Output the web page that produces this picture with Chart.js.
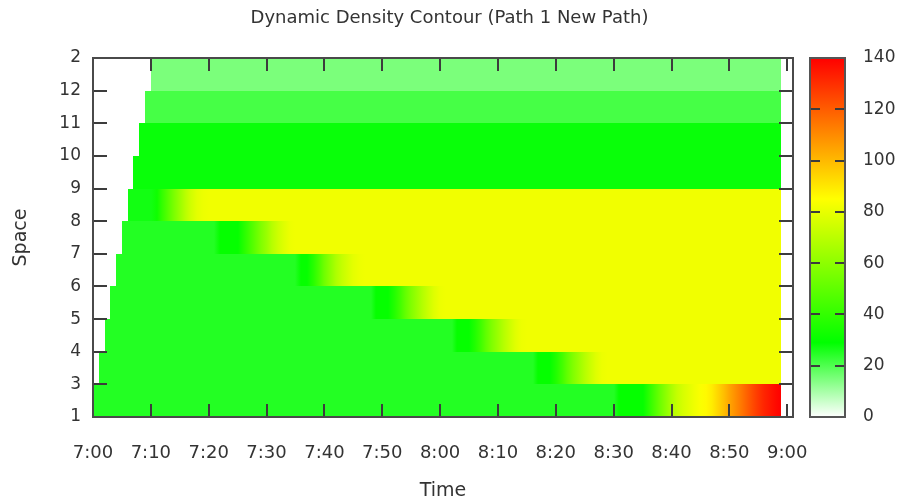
<!DOCTYPE html>
<html>
<head>
<meta charset="utf-8">
<title>Dynamic Density Contour</title>
<script src="https://cdn.jsdelivr.net/npm/chart.js@4.4.1/dist/chart.umd.min.js"></script>
<style>
  html, body { margin: 0; padding: 0; background: #fff; }
  canvas { display: block; }
</style>
</head>
<body>
<canvas id="densityChart" width="899" height="498"></canvas>
<script>
// Dynamic density contour: one sample per minute from 7:00, one row per space section

// Time axis (minutes after 7:00)
const timeTicks = [0, 10, 20, 30, 40, 50, 60, 70, 80, 90, 100, 110, 120];
const timeLabels = ['7:00', '7:10', '7:20', '7:30', '7:40', '7:50', '8:00', '8:10', '8:20', '8:30', '8:40', '8:50', '9:00'];

// Space axis (row boundaries)
const spaceTicks = [0, 1, 2, 3, 4, 5, 6, 7, 8, 9, 10, 11];
const spaceLabels = ['1', '3', '4', '5', '6', '7', '8', '9', '10', '11', '12', '2'];

// Colour bar
const colorTicks = [0, 20, 40, 60, 80, 100, 120, 140];
const paletteStops = [0, 29, 85, 140];
const paletteColors = [[255, 255, 255], [0, 255, 0], [255, 255, 0], [255, 0, 0]];

// Density per minute (index = minutes after 7:00), null = no vehicles yet
const row1 = [
  25,25,25,25,25,25,25,25,25,25, 25,25,25,25,25,25,25,25,25,25, 25,25,25,25,25,25,25,25,25,25,
  25,25,25,25,25,25,25,25,25,25, 25,25,25,25,25,25,25,25,25,25, 25,25,25,25,25,25,25,25,25,25,
  25,25,25,25,25,25,25,25,25,25, 25,25,25,25,25,25,25,25,25,25, 25,25,25,25,25,25,25,25,25,25,
  25,30,30,30,30,30,37,45,53,60, 67,72,76,79,82,84,86,89,94,99, 104,109,114,119,124,128,132,135,138,140
];
const row3 = [
  null,25,25,25,25,25,25,25,25,25, 25,25,25,25,25,25,25,25,25,25, 25,25,25,25,25,25,25,25,25,25,
  25,25,25,25,25,25,25,25,25,25, 25,25,25,25,25,25,25,25,25,25, 25,25,25,25,25,25,25,25,25,25,
  25,25,25,25,25,25,25,25,25,25, 25,25,25,25,25,25,25,30,30,30, 36,43,50,57,63,69,74,78,81,82,
  82,82,82,82,82,82,82,82,82,82, 82,82,82,82,82,82,82,82,82,82, 82,82,82,82,82,82,82,82,82,82
];
const row4 = [
  null,null,25,25,25,25,25,25,25,25, 25,25,25,25,25,25,25,25,25,25, 25,25,25,25,25,25,25,25,25,25,
  25,25,25,25,25,25,25,25,25,25, 25,25,25,25,25,25,25,25,25,25, 25,25,25,25,25,25,25,25,25,25,
  25,25,25,30,30,30,36,43,50,57, 63,69,74,78,81,82,82,82,82,82, 82,82,82,82,82,82,82,82,82,82,
  82,82,82,82,82,82,82,82,82,82, 82,82,82,82,82,82,82,82,82,82, 82,82,82,82,82,82,82,82,82,82
];
const row5 = [
  null,null,null,25,25,25,25,25,25,25, 25,25,25,25,25,25,25,25,25,25, 25,25,25,25,25,25,25,25,25,25,
  25,25,25,25,25,25,25,25,25,25, 25,25,25,25,25,25,25,25,25,30, 30,30,36,43,50,57,63,69,74,78,
  81,82,82,82,82,82,82,82,82,82, 82,82,82,82,82,82,82,82,82,82, 82,82,82,82,82,82,82,82,82,82,
  82,82,82,82,82,82,82,82,82,82, 82,82,82,82,82,82,82,82,82,82, 82,82,82,82,82,82,82,82,82,82
];
const row6 = [
  null,null,null,null,25,25,25,25,25,25, 25,25,25,25,25,25,25,25,25,25, 25,25,25,25,25,25,25,25,25,25,
  25,25,25,25,25,25,30,30,37,45, 53,60,67,72,76,79,81,82,82,82, 82,82,82,82,82,82,82,82,82,82,
  82,82,82,82,82,82,82,82,82,82, 82,82,82,82,82,82,82,82,82,82, 82,82,82,82,82,82,82,82,82,82,
  82,82,82,82,82,82,82,82,82,82, 82,82,82,82,82,82,82,82,82,82, 82,82,82,82,82,82,82,82,82,82
];
const row7 = [
  null,null,null,null,null,25,25,25,25,25, 25,25,25,25,25,25,25,25,25,25, 25,25,30,30,30,30,36,43,50,57,
  63,69,74,78,81,82,82,82,82,82, 82,82,82,82,82,82,82,82,82,82, 82,82,82,82,82,82,82,82,82,82,
  82,82,82,82,82,82,82,82,82,82, 82,82,82,82,82,82,82,82,82,82, 82,82,82,82,82,82,82,82,82,82,
  82,82,82,82,82,82,82,82,82,82, 82,82,82,82,82,82,82,82,82,82, 82,82,82,82,82,82,82,82,82,82
];
const row8 = [
  null,null,null,null,null,null,27,27,27,27, 27,32,40,48,56,63,70,75,79,81, 82,82,82,82,82,82,82,82,82,82,
  82,82,82,82,82,82,82,82,82,82, 82,82,82,82,82,82,82,82,82,82, 82,82,82,82,82,82,82,82,82,82,
  82,82,82,82,82,82,82,82,82,82, 82,82,82,82,82,82,82,82,82,82, 82,82,82,82,82,82,82,82,82,82,
  82,82,82,82,82,82,82,82,82,82, 82,82,82,82,82,82,82,82,82,82, 82,82,82,82,82,82,82,82,82,82
];
const row9 = [
  null,null,null,null,null,null,null,28,28,28, 28,28,28,28,28,28,28,28,28,28, 28,28,28,28,28,28,28,28,28,28,
  28,28,28,28,28,28,28,28,28,28, 28,28,28,28,28,28,28,28,28,28, 28,28,28,28,28,28,28,28,28,28,
  28,28,28,28,28,28,28,28,28,28, 28,28,28,28,28,28,28,28,28,28, 28,28,28,28,28,28,28,28,28,28,
  28,28,28,28,28,28,28,28,28,28, 28,28,28,28,28,28,28,28,28,28, 28,28,28,28,28,28,28,28,28,28
];
const row10 = [
  null,null,null,null,null,null,null,null,28,28, 28,28,28,28,28,28,28,28,28,28, 28,28,28,28,28,28,28,28,28,28,
  28,28,28,28,28,28,28,28,28,28, 28,28,28,28,28,28,28,28,28,28, 28,28,28,28,28,28,28,28,28,28,
  28,28,28,28,28,28,28,28,28,28, 28,28,28,28,28,28,28,28,28,28, 28,28,28,28,28,28,28,28,28,28,
  28,28,28,28,28,28,28,28,28,28, 28,28,28,28,28,28,28,28,28,28, 28,28,28,28,28,28,28,28,28,28
];
const row11 = [
  null,null,null,null,null,null,null,null,null,21, 21,21,21,21,21,21,21,21,21,21, 21,21,21,21,21,21,21,21,21,21,
  21,21,21,21,21,21,21,21,21,21, 21,21,21,21,21,21,21,21,21,21, 21,21,21,21,21,21,21,21,21,21,
  21,21,21,21,21,21,21,21,21,21, 21,21,21,21,21,21,21,21,21,21, 21,21,21,21,21,21,21,21,21,21,
  21,21,21,21,21,21,21,21,21,21, 21,21,21,21,21,21,21,21,21,21, 21,21,21,21,21,21,21,21,21,21
];
const row12 = [
  null,null,null,null,null,null,null,null,null,null, 15,15,15,15,15,15,15,15,15,15, 15,15,15,15,15,15,15,15,15,15,
  15,15,15,15,15,15,15,15,15,15, 15,15,15,15,15,15,15,15,15,15, 15,15,15,15,15,15,15,15,15,15,
  15,15,15,15,15,15,15,15,15,15, 15,15,15,15,15,15,15,15,15,15, 15,15,15,15,15,15,15,15,15,15,
  15,15,15,15,15,15,15,15,15,15, 15,15,15,15,15,15,15,15,15,15, 15,15,15,15,15,15,15,15,15,15
];

// bottom row first
const densityRows = [row1, row3, row4, row5, row6, row7, row8, row9, row10, row11, row12];

const FONT = "'DejaVu Sans', Verdana, sans-serif";
const TEXT = '#333';

// map a density value onto the white-green-yellow-red palette
function densityColor(v) {
  let k = 0;
  while (k < paletteStops.length - 2 && v > paletteStops[k + 1]) k++;
  const span = paletteStops[k + 1] - paletteStops[k];
  const f = Math.min(1, Math.max(0, (v - paletteStops[k]) / span));
  const a = paletteColors[k], b = paletteColors[k + 1];
  const c = a.map((ch, i) => Math.round(ch + (b[i] - ch) * f));
  return `rgb(${c[0]},${c[1]},${c[2]})`;
}

// Heat surface: a quad between each pair of neighbouring minutes, shaded across
const heatmapPlugin = {
  id: 'densityHeatmap',
  beforeDatasetsDraw(chart) {
    const { ctx, scales: { x, y } } = chart;
    ctx.save();
    densityRows.forEach((row, r) => {
      const yTop = Math.round(y.getPixelForValue(r + 1));
      const yBot = Math.round(y.getPixelForValue(r));
      for (let i = 0; i < row.length - 1; i++) {
        const v0 = row[i], v1 = row[i + 1];
        if (v0 == null || v1 == null) continue;
        const x0 = Math.round(x.getPixelForValue(i));
        const x1 = Math.round(x.getPixelForValue(i + 1));
        if (v0 === v1) {
          ctx.fillStyle = densityColor(v0);
        } else {
          const g = ctx.createLinearGradient(x0, 0, x1, 0);
          g.addColorStop(0, densityColor(v0));
          g.addColorStop(1, densityColor(v1));
          ctx.fillStyle = g;
        }
        ctx.fillRect(x0, yTop, x1 - x0, yBot - yTop);
      }
    });
    ctx.restore();
  }
};

// Plot frame with inward tick marks on all four sides
const framePlugin = {
  id: 'plotFrame',
  afterDatasetsDraw(chart) {
    const { ctx, chartArea: { left, right, top, bottom }, scales: { x, y } } = chart;
    ctx.save();
    ctx.strokeStyle = '#3c3c3c';
    ctx.lineWidth = 2;
    ctx.beginPath();
    timeTicks.forEach(v => {
      const px = Math.round(x.getPixelForValue(v));
      ctx.moveTo(px, bottom); ctx.lineTo(px, bottom - 13);
      ctx.moveTo(px, top); ctx.lineTo(px, top + 13);
    });
    spaceTicks.forEach(v => {
      const py = Math.round(y.getPixelForValue(v));
      ctx.moveTo(left, py); ctx.lineTo(left + 14, py);
      ctx.moveTo(right, py); ctx.lineTo(right - 14, py);
    });
    ctx.stroke();
    ctx.strokeStyle = '#4a4a4a';
    ctx.strokeRect(left, top, right - left, bottom - top);
    ctx.restore();
  }
};

// Colour bar next to the plot, laid out on the 'c' scale
const colorbarPlugin = {
  id: 'colorbar',
  afterDraw(chart) {
    const { ctx, chartArea } = chart;
    const c = chart.scales.c;
    const x0 = chartArea.right + 17, w = 35;
    const yTop = c.getPixelForValue(colorTicks[colorTicks.length - 1]);
    const yBot = c.getPixelForValue(colorTicks[0]);
    ctx.save();
    const g = ctx.createLinearGradient(0, yBot, 0, yTop);
    paletteStops.forEach((s, i) => {
      const col = paletteColors[i];
      g.addColorStop((s - c.min) / (c.max - c.min), `rgb(${col[0]},${col[1]},${col[2]})`);
    });
    ctx.fillStyle = g;
    ctx.fillRect(x0, yTop, w, yBot - yTop);
    ctx.strokeStyle = '#3c3c3c';
    ctx.lineWidth = 2;
    ctx.beginPath();
    colorTicks.slice(1, -1).forEach(v => {
      const py = Math.round(c.getPixelForValue(v));
      ctx.moveTo(x0, py); ctx.lineTo(x0 + 10, py);
      ctx.moveTo(x0 + w, py); ctx.lineTo(x0 + w - 10, py);
    });
    ctx.stroke();
    ctx.strokeStyle = '#555';
    ctx.strokeRect(x0, yTop, w, yBot - yTop);
    ctx.restore();
  }
};

new Chart(document.getElementById('densityChart'), {
  type: 'scatter',
  data: { datasets: [] },
  options: {
    responsive: false,
    animation: false,
    layout: { padding: 0 },
    plugins: {
      legend: { display: false },
      tooltip: { enabled: false },
      title: {
        display: true,
        text: 'Dynamic Density Contour (Path 1 New Path)',
        color: TEXT,
        font: { family: FONT, size: 18, weight: 'normal' },
        padding: { top: 8, bottom: 28.4 }
      }
    },
    scales: {
      x: {
        type: 'linear',
        position: 'bottom',
        min: 0,
        max: 121,
        grid: { display: false, drawTicks: false },
        border: { display: false },
        afterBuildTicks: s => { s.ticks = timeTicks.map(v => ({ value: v })); },
        afterFit: s => { s.height = 81; },
        ticks: {
          autoSkip: false,
          maxRotation: 0,
          padding: 26,
          color: TEXT,
          font: { family: FONT, size: 18 },
          callback: v => timeLabels[timeTicks.indexOf(v)]
        },
        title: {
          display: true,
          text: 'Time',
          color: TEXT,
          font: { family: FONT, size: 19, lineHeight: 0.68 },
          padding: { top: 0, bottom: 0 }
        }
      },
      y: {
        type: 'linear',
        position: 'left',
        min: 0,
        max: 11,
        grid: { display: false, drawTicks: false },
        border: { display: false },
        afterBuildTicks: s => { s.ticks = spaceTicks.map(v => ({ value: v })); },
        afterFit: s => { s.width = 93; },
        ticks: {
          autoSkip: false,
          padding: 12,
          color: TEXT,
          font: { family: FONT, size: 17 },
          callback: v => spaceLabels[spaceTicks.indexOf(v)]
        },
        title: {
          display: true,
          text: 'Space',
          color: TEXT,
          font: { family: FONT, size: 19 },
          padding: { top: 10, bottom: 0 }
        }
      },
      c: {
        type: 'linear',
        position: 'right',
        axis: 'y',
        min: 0,
        max: 140,
        grid: { display: false, drawTicks: false },
        border: { display: false },
        afterBuildTicks: s => { s.ticks = colorTicks.map(v => ({ value: v })); },
        // wide label gap leaves room for the bar; keep it out of the vertical padding
        afterFit: s => { s.width = 106; s.paddingTop = 10; s.paddingBottom = 10; },
        ticks: {
          autoSkip: false,
          padding: 70,
          color: TEXT,
          font: { family: FONT, size: 17 }
        }
      }
    }
  },
  plugins: [heatmapPlugin, framePlugin, colorbarPlugin]
});
</script>
</body>
</html>
